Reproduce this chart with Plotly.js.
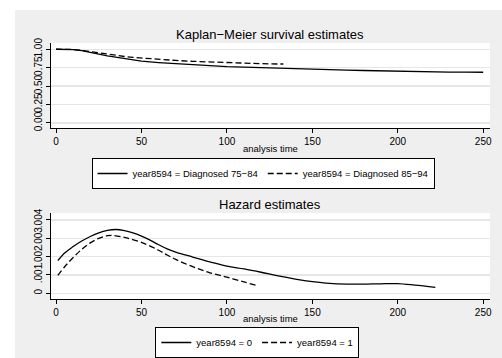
<!DOCTYPE html>
<html>
<head>
<meta charset="utf-8">
<script src="https://cdn.plot.ly/plotly-3.0.1.min.js"></script>
<style>
html,body{margin:0;padding:0;background:#ffffff;}
#chart{position:absolute;left:15px;top:10px;width:487px;height:348px;}
</style>
</head>
<body>
<div id="chart"></div>
<script>
// Kaplan-Meier survival estimates
var kmTime1 = [0,5,10,15,20,25,30,35,40,45,50,60,70,80,90,100,110,120,130,140,150,160,170,180,190,200,210,220,230,240,250];
var kmSurv1 = [1.0,0.999,0.995,0.982,0.962,0.935,0.91,0.89,0.872,0.858,0.838,0.82,0.805,0.79,0.777,0.765,0.758,0.75,0.742,0.733,0.725,0.72,0.716,0.712,0.706,0.70,0.696,0.692,0.69,0.689,0.688];
var kmTime2 = [0,5,10,15,20,25,30,35,40,45,50,60,70,80,90,100,110,120,130,133];
var kmSurv2 = [1.0,1.0,0.997,0.985,0.968,0.948,0.93,0.915,0.902,0.89,0.88,0.862,0.848,0.836,0.826,0.816,0.81,0.805,0.80,0.80];

// Hazard estimates
var hzTime1 = [1,5,10,15,20,25,30,35,40,45,50,55,60,65,70,80,90,100,110,120,130,140,150,160,170,180,190,200,210,222];
var hzRate1 = [0.00178,0.0022,0.00255,0.00285,0.0031,0.0033,0.00343,0.00348,0.00342,0.0033,0.00312,0.0029,0.00265,0.00242,0.00225,0.00198,0.00172,0.00148,0.00133,0.00115,0.00095,0.00078,0.00064,0.00054,0.0005,0.0005,0.00052,0.00053,0.00045,0.00033];
var hzTime2 = [1,5,10,15,20,25,30,33,40,50,60,65,70,80,90,100,110,117];
var hzRate2 = [0.00098,0.00145,0.00195,0.0024,0.00275,0.003,0.00314,0.00316,0.00305,0.00278,0.00235,0.00209,0.00185,0.00145,0.00112,0.00088,0.00062,0.00044];

var kmTicks = [0,0.25,0.5,0.75,1];
var kmTickText = ['0.00','0.25','0.50','0.75','1.00'];
var hzTicks = [0,0.001,0.002,0.003,0.004];
var hzTickText = ['0','.001','.002','.003','.004'];
var xTicks = [0,50,100,150,200,250];

var labels1 = ['year8594 = Diagnosed 75\u221284','year8594 = Diagnosed 85\u221294'];
var labels2 = ['year8594 = 0','year8594 = 1'];

var dashPat = '6px,3px';
var traces = [
  {x: kmTime1, y: kmSurv1, mode:'lines', name: labels1[0], line:{color:'#000',width:1.3,dash:'solid'}, xaxis:'x', yaxis:'y', legend:'legend'},
  {x: kmTime2, y: kmSurv2, mode:'lines', name: labels1[1], line:{color:'#000',width:1.3,dash:dashPat}, xaxis:'x', yaxis:'y', legend:'legend'},
  {x: hzTime1, y: hzRate1, mode:'lines', name: labels2[0], line:{color:'#000',width:1.3,dash:'solid',shape:'spline'}, xaxis:'x2', yaxis:'y2', legend:'legend2'},
  {x: hzTime2, y: hzRate2, mode:'lines', name: labels2[1], line:{color:'#000',width:1.3,dash:dashPat,shape:'spline'}, xaxis:'x2', yaxis:'y2', legend:'legend2'}
];

var font = 'Liberation Sans, Arial, sans-serif';
var xCommon = {
  range:[-3,254], tickvals:xTicks, ticks:'outside', ticklen:4, tickcolor:'#000', tickwidth:1,
  showline:true, linecolor:'#000', linewidth:1, showgrid:false, zeroline:false,
  tickfont:{family:font,size:10,color:'#000'}, fixedrange:true
};
var yCommon = {
  ticks:'outside', ticklen:4, tickcolor:'#000', tickwidth:1, tickangle:-90,
  showline:true, linecolor:'#000', linewidth:1, showgrid:true, gridcolor:'#e6e6e6', gridwidth:1.5,
  zeroline:false, tickfont:{family:font,size:10,color:'#000'}, fixedrange:true
};

var layout = {
  width:487, height:348,
  margin:{l:36,r:12,t:0,b:0,pad:0},
  paper_bgcolor:'#efefef', plot_bgcolor:'#ffffff',
  showlegend:true,
  xaxis: Object.assign({}, xCommon, {anchor:'y', domain:[0,1]}),
  yaxis: Object.assign({}, yCommon, {anchor:'x', domain:[0.6609,0.9052], range:[-0.068,1.085], tickvals:kmTicks, ticktext:kmTickText}),
  xaxis2: Object.assign({}, xCommon, {anchor:'y2', domain:[0,1]}),
  yaxis2: Object.assign({}, yCommon, {anchor:'x2', domain:[0.1695,0.4167], range:[-0.00031,0.00438], tickvals:hzTicks, ticktext:hzTickText}),
  legend:{orientation:'h', x:0.483, xanchor:'center', y:0.5747, yanchor:'top',
    bgcolor:'#ffffff', bordercolor:'#000', borderwidth:1, font:{family:font,size:9.5,color:'#000'},
    itemwidth:30, tracegroupgap:0},
  legend2:{orientation:'h', x:0.47, xanchor:'center', y:0.089, yanchor:'top',
    bgcolor:'#ffffff', bordercolor:'#000', borderwidth:1, font:{family:font,size:9.5,color:'#000'},
    itemwidth:30, tracegroupgap:0},
  annotations:[
    {text:'Kaplan\u2212Meier survival estimates', xref:'paper', yref:'paper', x:0.499, y:0.931, xanchor:'center', yanchor:'middle', showarrow:false, font:{family:font,size:13,color:'#000'}},
    {text:'analysis time', xref:'paper', yref:'paper', x:0.499, y:0.6026, xanchor:'center', yanchor:'middle', showarrow:false, font:{family:font,size:9.5,color:'#000'}},
    {text:'Hazard estimates', xref:'paper', yref:'paper', x:0.499, y:1-(204-10)/348, xanchor:'center', yanchor:'middle', showarrow:false, font:{family:font,size:13,color:'#000'}},
    {text:'analysis time', xref:'paper', yref:'paper', x:0.499, y:1-(318-10)/348, xanchor:'center', yanchor:'middle', showarrow:false, font:{family:font,size:9.5,color:'#000'}}
  ]
};

Plotly.newPlot('chart', traces, layout, {displayModeBar:false, staticPlot:true});
</script>
</body>
</html>
